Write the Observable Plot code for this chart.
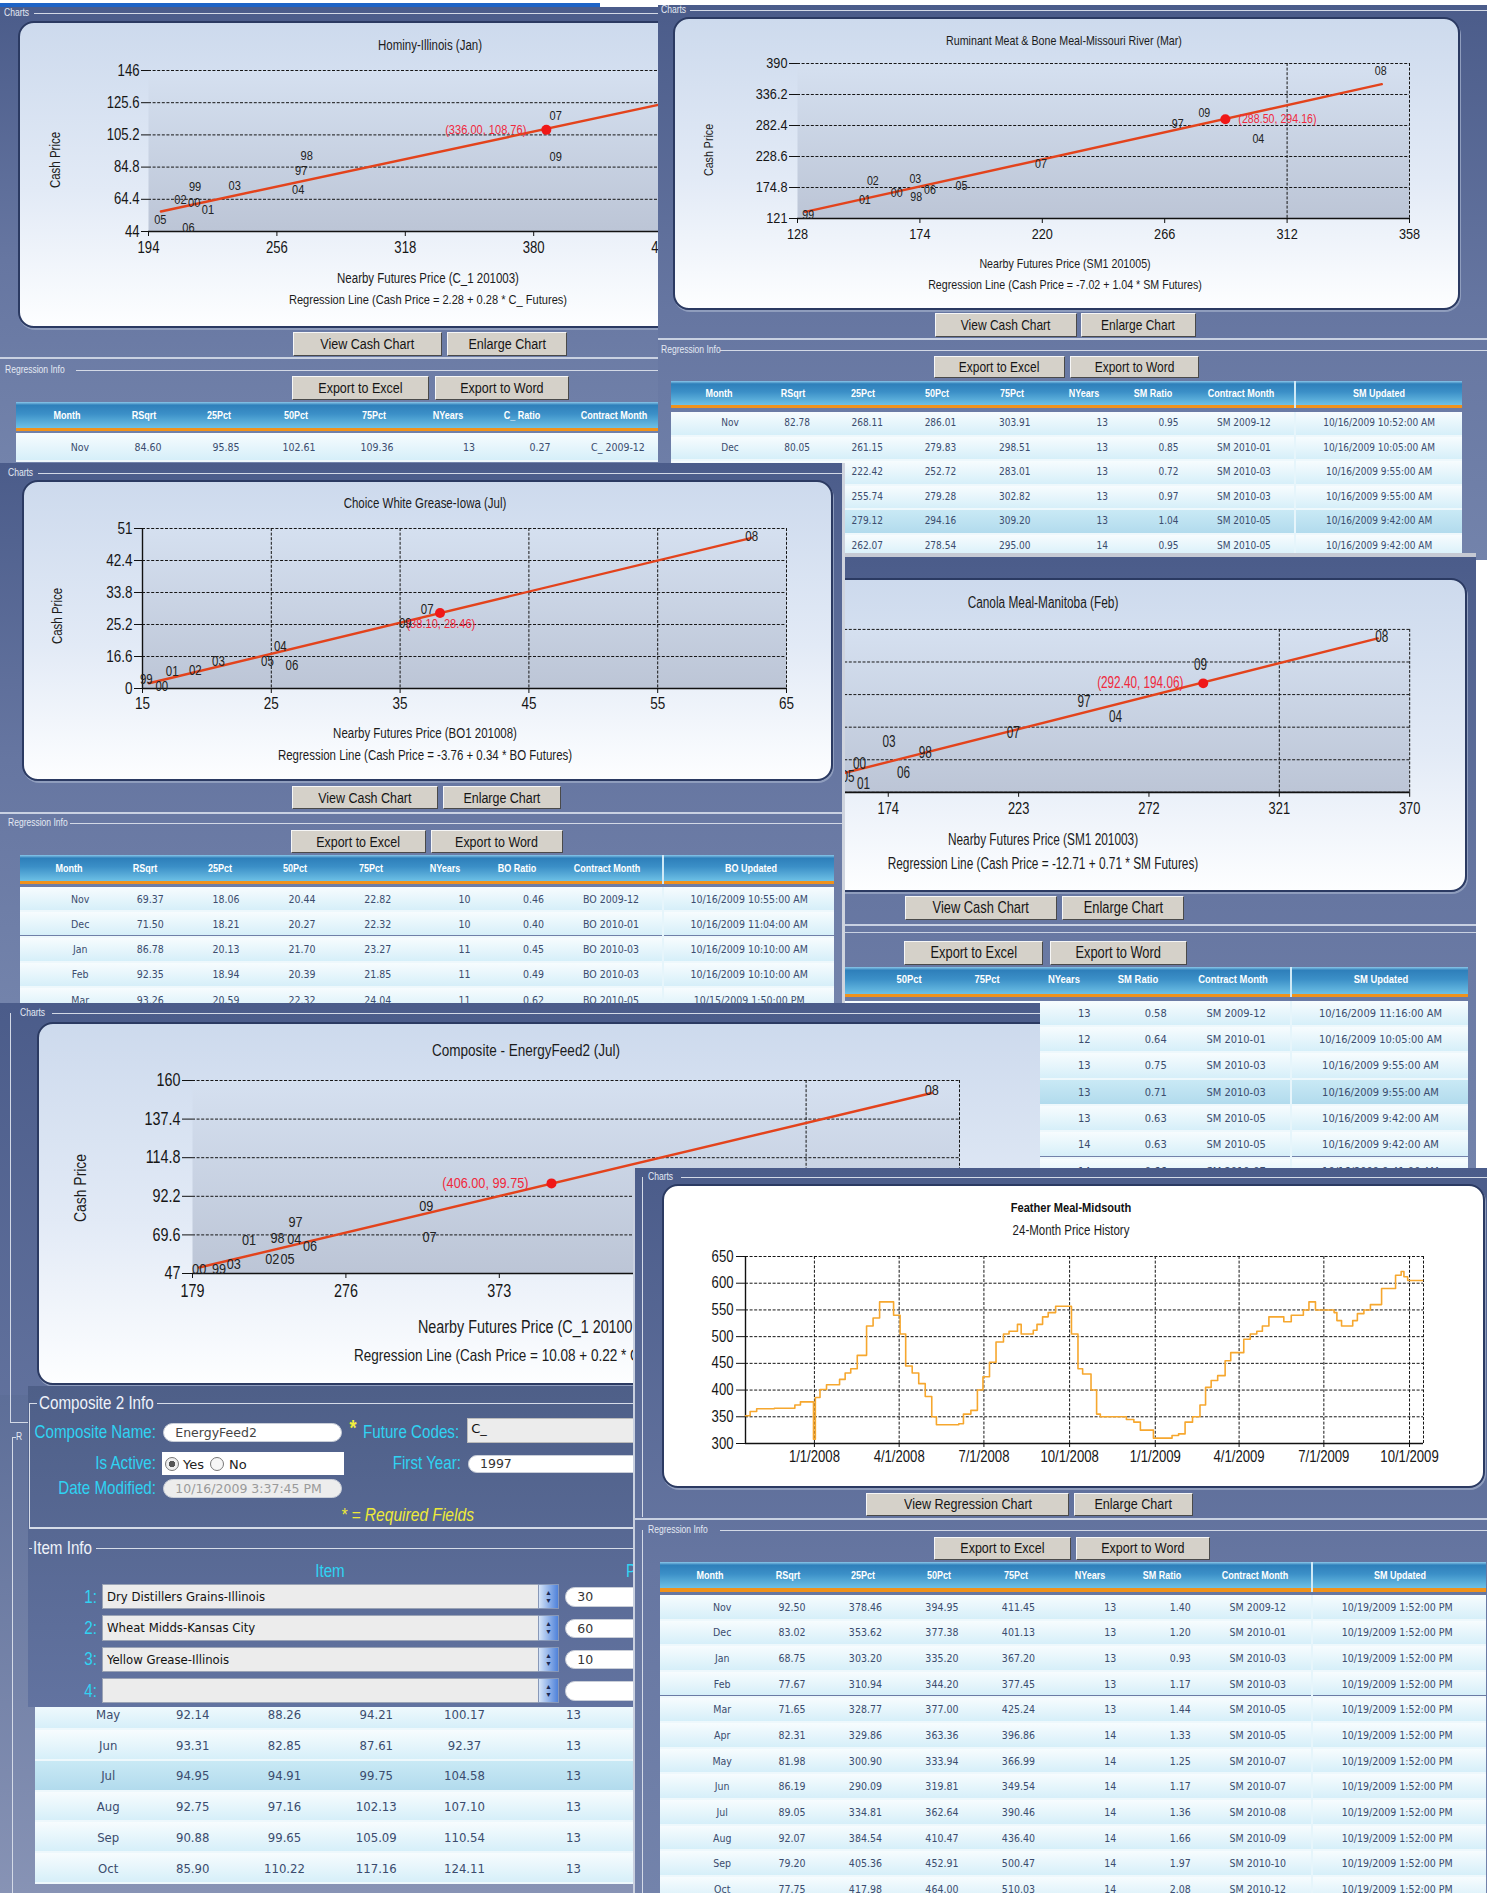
<!DOCTYPE html>
<html><head><meta charset="utf-8">
<script src="https://cdn.jsdelivr.net/npm/d3@7"></script>
<script src="https://cdn.jsdelivr.net/npm/@observablehq/plot@0.6"></script>
<style>
html,body{margin:0;padding:0;background:#fff;}
#page{position:relative;width:1487px;height:1893px;overflow:hidden;background:#fff;}
.pn{position:absolute;overflow:hidden;background:linear-gradient(180deg,#4b5c8a 0%,#6676a1 55%,#7383ab 100%);}
.a{position:absolute;box-sizing:border-box;}
.t{position:absolute;white-space:nowrap;line-height:1;}
.box{position:absolute;box-sizing:border-box;border:2px solid #2b3a62;border-radius:16px;background:linear-gradient(180deg,#cddaed 0%,#e2eaf6 55%,#fdfeff 100%);box-shadow:1px 2px 0 #8f9dbd;}
.btn{position:absolute;box-sizing:border-box;background:#d5d1c9;border:1px solid;border-color:#f6f6f6 #4a4a4a #4a4a4a #f6f6f6;display:flex;align-items:center;justify-content:center;color:#151515;white-space:nowrap;}
.btn span{display:inline-block;transform:scaleX(0.82);}
</style></head><body><div id="page"></div>
<script>
// ---------------- DATA ----------------
// Hominy-Illinois (Jan)
const hominyYears   = ["07","09","98","97","04","03","99","02","00","01","05","06"];
const hominyFutures = [390.6,390.6,270.4,267.7,266.3,235.6,216.5,209.4,216.1,222.7,199.7,213.3];
const hominyCash    = [117.5,91.5,92.2,82.5,70.6,73.1,72.5,64.1,62.2,57.9,51.4,46.3];
const hominyFitX = [200,470];
const hominyFitY = [56.7,132.6];
const hominyMark = [386.1,108.4];
const hominyMarkLabel = "(336.00, 108.76)";
const hominyXTicks = [194,256,318,380,442,504];
const hominyYTicks = [44,64.4,84.8,105.2,125.6,146];

// Ruminant Meat & Bone Meal-Missouri River (Mar)
const rumYears   = ["08","09","97","04","07","02","03","05","00","98","06","01","99"];
const rumFutures = [347.2,280.9,270.9,301.2,219.5,156.3,172.3,189.6,165.3,172.6,177.8,153.3,132];
const rumCash    = [376.6,304.3,285.9,259.8,216.5,185.7,190.4,178.3,165.4,158.5,171.3,154,126.7];
const rumFitX = [130.9,347.6];
const rumFitY = [132.5,354.1];
const rumMark = [288.8,293.3];
const rumMarkLabel = "(288.50, 294.16)";
const rumXTicks = [128,174,220,266,312,358];
const rumYTicks = [121,174.8,228.6,282.4,336.2,390];

// Choice White Grease-Iowa (Jul)
const cwgYears   = ["08","07","09","04","05","06","03","02","01","99","00"];
const cwgFutures = [62.3,37.1,35.4,25.7,24.7,26.6,20.9,19.1,17.3,15.3,16.5];
const cwgCash    = [48.8,29.2,25.6,19.4,15.3,14.1,15.3,12.9,12.7,10.5,8.5];
const cwgFitX = [15.5,62.3];
const cwgFitY = [9.4,48.5];
const cwgMark = [38.1,28.3];
const cwgMarkLabel = "(38.10, 28.46)";
const cwgXTicks = [15,25,35,45,55,65];
const cwgYTicks = [8,16.6,25.2,33.8,42.4,51];
const cwgYTickLabels = ["0","16.6","25.2","33.8","42.4","51"];

// Canola Meal-Manitoba (Feb)
const canYears   = ["08","09","97","04","07","03","98","06","00","01","05"];
const canFutures = [359.5,291.4,247.6,259.4,221,174.3,187.9,179.7,163.2,164.7,158.9];
const canCash    = [243.2,213.2,175,159,141.5,131.9,120.9,99.2,108.6,88.1,95];
const canFitX = [140,358];
const canFitY = [87,241.5];
const canMark = [292.4,194.06];
const canMarkLabel = "(292.40, 194.06)";
const canXTicks = [125,174,223,272,321,370];
const canYTicks = [79,113.4,147.8,182.2,216.6,251];

// Composite - EnergyFeed2 (Jul)
const compYears   = ["08","09","07","97","98","04","06","01","02","05","03","99","00"];
const compFutures = [646.5,326.8,328.9,244.1,232.8,243.3,253.3,214.7,229.4,239.1,205.1,195.8,183.2];
const compCash    = [154.7,86.7,68.5,77.3,67.8,67.2,63.3,66.6,55.4,55.4,52.5,49.6,49.6];
const compFitX = [183.2,646.5];
const compFitY = [50.5,152.7];
const compMark = [406,99.75];
const compMarkLabel = "(406.00, 99.75)";
const compXTicks = [179,276,373,470,567,664];
const compYTicks = [47,69.6,92.2,114.8,137.4,160];
const compItems = ["Dry Distillers Grains-Illinois","Wheat Midds-Kansas City","Yellow Grease-Illinois",""];
const compWeights = ["30","60","10",""];

// Feather Meal-Midsouth 24-Month Price History
const featherDates = ["2007-10-19","2007-10-24","2007-10-31","2007-11-19","2007-12-11","2007-12-17","2007-12-31","2008-01-02","2008-01-07","2008-01-14",
 "2008-01-28","2008-02-03","2008-02-09","2008-02-16","2008-02-26","2008-03-04","2008-03-11","2008-03-26","2008-04-02","2008-04-08",
 "2008-04-15","2008-04-22","2008-04-29","2008-05-06","2008-05-11","2008-06-04","2008-06-09","2008-06-17","2008-06-24","2008-06-30",
 "2008-07-07","2008-07-14","2008-07-22","2008-07-28","2008-08-06","2008-08-10","2008-08-23","2008-08-27","2008-09-02","2008-09-08",
 "2008-09-16","2008-10-03","2008-10-10","2008-10-15","2008-10-24","2008-10-30","2008-11-03","2008-12-01","2008-12-09","2008-12-16",
 "2008-12-30","2009-01-19","2009-01-26","2009-02-02","2009-02-10","2009-02-18","2009-02-24","2009-03-02","2009-03-09","2009-03-17",
 "2009-03-23","2009-04-06","2009-04-13","2009-04-20","2009-04-26","2009-05-03","2009-05-19","2009-05-27","2009-06-09","2009-06-15",
 "2009-06-22","2009-07-12","2009-07-15","2009-07-20","2009-08-01","2009-08-06","2009-08-13","2009-08-20","2009-09-01","2009-09-16",
 "2009-09-22","2009-09-25","2009-09-29","2009-10-15"];
const featherPrices = [352,360,365,366,372,378,308,386,401,410,
 420,432,440,465,520,535,565,540,505,445,
 432,412,388,350,335,337,355,362,400,425,
 452,490,505,510,523,505,512,523,537,545,
 557,505,440,430,400,355,350,345,340,325,
 310,315,318,340,350,372,405,418,427,455,
 470,495,505,510,520,537,528,540,550,565,
 550,545,530,520,530,543,550,560,590,615,
 622,612,605,605];
const featherXTicks = ["2008-01-01","2008-04-01","2008-07-01","2008-10-01","2009-01-01","2009-04-01","2009-07-01","2009-10-01"];
const featherYTicks = [300,350,400,450,500,550,600,650];
const featherDomain = ["2007-10-19","2009-10-16"];

// Regression tables
const headC  = ["Month","RSqrt","25Pct","50Pct","75Pct","NYears","C_ Ratio","Contract Month","C_ Updated"];
const headSM = ["Month","RSqrt","25Pct","50Pct","75Pct","NYears","SM Ratio","Contract Month","SM Updated"];
const headBO = ["Month","RSqrt","25Pct","50Pct","75Pct","NYears","BO Ratio","Contract Month","BO Updated"];
const hominyRows = [["Nov","84.60","95.85","102.61","109.36","13","0.27","C_ 2009-12",""]];
const rumRows = [
 ["Nov","82.78","268.11","286.01","303.91","13","0.95","SM 2009-12","10/16/2009 10:52:00 AM"],
 ["Dec","80.05","261.15","279.83","298.51","13","0.85","SM 2010-01","10/16/2009 10:05:00 AM"],
 ["","","222.42","252.72","283.01","13","0.72","SM 2010-03","10/16/2009 9:55:00 AM"],
 ["","","255.74","279.28","302.82","13","0.97","SM 2010-03","10/16/2009 9:55:00 AM"],
 ["","","279.12","294.16","309.20","13","1.04","SM 2010-05","10/16/2009 9:42:00 AM"],
 ["","","262.07","278.54","295.00","14","0.95","SM 2010-05","10/16/2009 9:42:00 AM"]];
const cwgRows = [
 ["Nov","69.37","18.06","20.44","22.82","10","0.46","BO 2009-12","10/16/2009 10:55:00 AM"],
 ["Dec","71.50","18.21","20.27","22.32","10","0.40","BO 2010-01","10/16/2009 11:04:00 AM"],
 ["Jan","86.78","20.13","21.70","23.27","11","0.45","BO 2010-03","10/16/2009 10:10:00 AM"],
 ["Feb","92.35","18.94","20.39","21.85","11","0.49","BO 2010-03","10/16/2009 10:10:00 AM"],
 ["Mar","93.26","20.59","22.32","24.04","11","0.62","BO 2010-05","10/15/2009 1:50:00 PM"]];
const canRows = [
 ["","","","","","13","0.58","SM 2009-12","10/16/2009 11:16:00 AM"],
 ["","","","","","12","0.64","SM 2010-01","10/16/2009 10:05:00 AM"],
 ["","","","","","13","0.75","SM 2010-03","10/16/2009 9:55:00 AM"],
 ["","","","","","13","0.71","SM 2010-03","10/16/2009 9:55:00 AM"],
 ["","","","","","13","0.63","SM 2010-05","10/16/2009 9:42:00 AM"],
 ["","","","","","14","0.63","SM 2010-05","10/16/2009 9:42:00 AM"],
 ["","","","","","14","0.66","SM 2010-07","10/16/2009 9:41:00 AM"]];
const compRows = [
 ["May","92.14","88.26","94.21","100.17","13"],
 ["Jun","93.31","82.85","87.61","92.37","13"],
 ["Jul","94.95","94.91","99.75","104.58","13"],
 ["Aug","92.75","97.16","102.13","107.10","13"],
 ["Sep","90.88","99.65","105.09","110.54","13"],
 ["Oct","85.90","110.22","117.16","124.11","13"]];
const featherRows = [
 ["Nov","92.50","378.46","394.95","411.45","13","1.40","SM 2009-12","10/19/2009 1:52:00 PM"],
 ["Dec","83.02","353.62","377.38","401.13","13","1.20","SM 2010-01","10/19/2009 1:52:00 PM"],
 ["Jan","68.75","303.20","335.20","367.20","13","0.93","SM 2010-03","10/19/2009 1:52:00 PM"],
 ["Feb","77.67","310.94","344.20","377.45","13","1.17","SM 2010-03","10/19/2009 1:52:00 PM"],
 ["Mar","71.65","328.77","377.00","425.24","13","1.44","SM 2010-05","10/19/2009 1:52:00 PM"],
 ["Apr","82.31","329.86","363.36","396.86","14","1.33","SM 2010-05","10/19/2009 1:52:00 PM"],
 ["May","81.98","300.90","333.94","366.99","14","1.25","SM 2010-07","10/19/2009 1:52:00 PM"],
 ["Jun","86.19","290.09","319.81","349.54","14","1.17","SM 2010-07","10/19/2009 1:52:00 PM"],
 ["Jul","89.05","334.81","362.64","390.46","14","1.36","SM 2010-08","10/19/2009 1:52:00 PM"],
 ["Aug","92.07","384.54","410.47","436.40","14","1.66","SM 2010-09","10/19/2009 1:52:00 PM"],
 ["Sep","79.20","405.36","452.91","500.47","14","1.97","SM 2010-10","10/19/2009 1:52:00 PM"],
 ["Oct","77.75","417.98","464.00","510.03","14","2.08","SM 2010-12","10/19/2009 1:52:00 PM"]];

// ---------------- HELPERS ----------------
const NARROW = '"Liberation Sans",Arial,sans-serif';
const COND = '"DejaVu Sans Condensed","DejaVu Sans",sans-serif';
const SANS = '"DejaVu Sans",Verdana,sans-serif';
const SX = 0.82;
const CYAN = "#2fd3f3";
const page = document.getElementById("page");
page._x = 0; page._y = 0;

function mk(parent, cls, x, y, w, h, css) {
  const d = document.createElement("div");
  d.className = cls;
  d.style.left = (x - parent._x) + "px";
  d.style.top = (y - parent._y) + "px";
  if (w != null) d.style.width = w + "px";
  if (h != null) d.style.height = h + "px";
  if (css) Object.assign(d.style, css);
  parent.appendChild(d);
  d._x = x; d._y = y;
  return d;
}
function tx(parent, s, x, y, o = {}) {
  const ff = o.ff || NARROW;
  const d = mk(parent, "t", x, y, null, null, {
    fontSize: (o.fs || 13) + "px", color: o.c || "#1b1b1b", fontFamily: ff,
    fontWeight: o.b ? "bold" : "normal", fontStyle: o.i ? "italic" : "normal"});
  const ax = o.a === "start" ? "0" : o.a === "end" ? "-100%" : "-50%";
  const sx = o.sx != null ? o.sx : (ff === NARROW ? SX : 1);
  d.style.transformOrigin = o.rot ? "50% 50%" : (o.a === "start" ? "0% 50%" : o.a === "end" ? "100% 50%" : "50% 50%");
  d.style.transform = `translate(${ax},-50%)` + (o.rot ? ` rotate(${o.rot}deg)` : "") + ` scaleX(${sx})`;
  d.textContent = s;
  return d;
}
function hl(p, x, y, w, c, th) { return mk(p, "a", x, y, w, th || 1, {background: c || "#c9d1e2"}); }
function vl(p, x, y, h, c, th) { return mk(p, "a", x, y, th || 1, h, {background: c || "#c9d1e2"}); }
function btn(p, label, x, y, w, h, fs) {
  const b = mk(p, "btn", x, y, w, h, {fontSize: (fs || 15) + "px", fontFamily: NARROW});
  const s = document.createElement("span"); s.textContent = label; b.appendChild(s);
  return b;
}
function panel(x, y, w, h, z, css) {
  return mk(page, "pn", x, y, w, h, Object.assign({zIndex: z}, css || {}));
}
function legend(p, label, x, y, lineStart, lineEnd) {
  tx(p, label, x, y, {a: "start", fs: 10.4, c: "#e4e9f3"});
  hl(p, lineStart, y, lineEnd - lineStart, "#d3d9e6");
}
function narrowSvg(svg, s) {
  svg.querySelectorAll("text").forEach(t => {
    const x = +t.getAttribute("x") || 0, y = +t.getAttribute("y") || 0;
    const tr = t.getAttribute("transform") || "";
    t.setAttribute("transform", `${tr} translate(${x},${y}) scale(${s},1) translate(${-x},${-y})`);
  });
}
function place(p, svg, x, y) {
  svg.style.position = "absolute";
  svg.style.left = (x - p._x) + "px";
  svg.style.top = (y - p._y) + "px";
  p.appendChild(svg);
}
function table(p, o) {
  if (o.head) {
    mk(p, "a", o.x, o.y, o.w, o.headH, {background: "linear-gradient(180deg,#8cc8ea 0%,#2e7fba 12%,#3b8fc7 45%,#6dc0e5 100%)"});
    o.head.forEach((h, i) => tx(p, h, o.hc[i], o.y + o.headH / 2, {fs: o.hfs || 11, c: "#ffffff", b: true}));
    mk(p, "a", o.x, o.y + o.headH, o.w, o.orangeH, {background: "#f0921c"});
    if (o.sep) vl(p, o.sep, o.y, o.headH + o.orangeH, "#cfe9f6", 2);
  }
  o.rows.forEach((r, k) => {
    const top = o.rowTop + k * o.rowH;
    const bg = k === o.hi ? "linear-gradient(180deg,#c9e9f5,#b2dbed)" : "linear-gradient(180deg,#f7fcfe,#d6eff9)";
    mk(p, "a", o.x, top, o.w, o.rowH - 2, {background: bg});
    hl(p, o.x, top + o.rowH - 2, o.w, "#eef8fc", 2);
    if (o.sep) vl(p, o.sep, top, o.rowH, "#e6f5fb", 2);
    r.forEach((v, i) => { if (v !== "") tx(p, v, o.vc[i], top + o.rowH / 2 - 1, {fs: o.vfs || 10, c: "#3b4c6e", ff: COND}); });
  });
}
function gradDefs(id, c1, c2) {
  return () => {
    const g = d3.create("svg:g");
    const lg = g.append("defs").append("linearGradient").attr("id", id)
      .attr("x1", "0").attr("y1", "0").attr("x2", "0").attr("y2", "1");
    lg.append("stop").attr("offset", "0").attr("stop-color", c1);
    lg.append("stop").attr("offset", "1").attr("stop-color", c2);
    return g.node();
  };
}
function regChart(p, o) {
  const [L, T, R, B] = o.rect;
  const padL = 95, padR = 30, padT = 14, padB = 36;
  const W = Math.round(R - L + padL + padR), H = Math.round(B - T + padT + padB);
  const labels = o.years.map((t, i) => ({t, x: o.fut[i], y: o.cash[i]}));
  const fit = o.fitX.map((x, i) => ({x, y: o.fitY[i]}));
  const ylab = new Map(o.yTicks.map((v, i) => [v, o.yLabels ? o.yLabels[i] : String(v)]));
  const dash = {stroke: "#161616", strokeWidth: 1, strokeDasharray: "3,1.6"};
  const marks = [
    gradDefs(o.id, "#d5e0f0", "#bcc5d6"),
    Plot.frame({fill: `url(#${o.id})`, stroke: "none"}),
    Plot.ruleY(o.yTicks, dash),
    Plot.ruleX(o.vLines, dash),
    Plot.ruleY([o.yDomain[0]], {stroke: "#111", strokeWidth: 1.6})
  ];
  if (o.leftLine) marks.push(Plot.ruleX([o.xDomain[0]], {stroke: "#111", strokeWidth: 1.4}));
  marks.push(
    Plot.axisY({ticks: o.yTicks, tickFormat: d => ylab.get(d), tickSize: o.ySize || 8, tickPadding: 2, fontSize: o.tickFs, label: null, stroke: "#111"}),
    Plot.axisX({ticks: o.xTicks, tickFormat: d => String(d), tickSize: 5, tickPadding: o.xPad || 4, fontSize: o.tickFs, label: null, stroke: "#111"}),
    Plot.line(fit, {x: "x", y: "y", stroke: "#e3431c", strokeWidth: 2.4}),
    Plot.text(labels, {x: "x", y: "y", text: "t", fontSize: o.lblFs, fill: "#222"}),
    Plot.dot([o.mark], {x: d => d[0], y: d => d[1], r: 5, fill: "#f01818", stroke: "none"}),
    Plot.text([o.mark], {x: d => d[0], y: d => d[1], text: () => o.markLabel, textAnchor: o.mlAnchor,
      dx: o.mlDx, dy: o.mlDy || 0, fill: "#f0283c", fontSize: o.mlFs || o.lblFs})
  );
  const svg = Plot.plot({
    width: W, height: H, marginLeft: padL, marginRight: padR, marginTop: padT, marginBottom: padB,
    x: {domain: o.xDomain}, y: {domain: o.yDomain},
    style: {background: "transparent", fontFamily: NARROW, color: "#161616", overflow: "visible"},
    marks
  });
  narrowSvg(svg, o.sx || SX);
  place(p, svg, L - padL, T - padT);
}

// ---------------- PAGE ----------------
mk(page, "a", 0, 3, 600, 4, {background: "#1d63c6"});

// ===== A: Hominy =====
const pA = panel(0, 7, 800, 459, 1);
legend(pA, "Charts", 4, 13, 34, 800);
mk(pA, "box", 18, 21, 840, 307);
tx(pA, "Hominy-Illinois (Jan)", 430, 45, {fs: 14});
regChart(pA, {id: "gA", rect: [148.4, 70, 790, 231], xDomain: [194, 504], yDomain: [44, 146],
  xTicks: hominyXTicks, yTicks: hominyYTicks, vLines: [], years: hominyYears, fut: hominyFutures, cash: hominyCash,
  fitX: hominyFitX, fitY: hominyFitY, mark: hominyMark, markLabel: hominyMarkLabel, mlAnchor: "end", mlDx: -20,
  tickFs: 16, lblFs: 13.5, xPad: 5, ySize: 7});
tx(pA, "Cash Price", 55, 160, {fs: 14, rot: -90});
tx(pA, "Nearby Futures Price (C_1 201003)", 428, 278, {fs: 14});
tx(pA, "Regression Line (Cash Price = 2.28 + 0.28 * C_ Futures)", 428, 300, {fs: 13.5});
btn(pA, "View Cash Chart", 293, 332, 149, 24, 15.3);
btn(pA, "Enlarge Chart", 447, 332, 120, 24, 15.3);
hl(pA, 0, 357, 800, "#c9d1e2", 2);
legend(pA, "Regression Info", 5, 370, 76, 800);
btn(pA, "Export to Excel", 292, 376, 137, 24, 15.3);
btn(pA, "Export to Word", 435, 376, 134, 24, 15.3);
table(pA, {x: 16, y: 402, w: 720, headH: 26, orangeH: 3, rowTop: 433, rowH: 29, head: headC,
  hc: [66.6, 144, 219, 296, 374, 448, 522, 614, 710], vc: [80, 148, 226, 299, 377, 469, 540, 618, 710],
  rows: hominyRows, hi: -1, sep: 665, vfs: 10.5});

// ===== B: Ruminant =====
const pB = panel(658, 5, 829, 555, 2);
legend(pB, "Charts", 661, 10, 690, 1487);
mk(pB, "box", 672.5, 16.7, 787.5, 293.3);
tx(pB, "Ruminant Meat & Bone Meal-Missouri River (Mar)", 1063.5, 40, {fs: 13});
regChart(pB, {id: "gB", rect: [797.2, 63.3, 1409.4, 218.3], xDomain: [128, 358], yDomain: [121, 390],
  xTicks: rumXTicks, yTicks: rumYTicks, vLines: [312, 358], years: rumYears, fut: rumFutures, cash: rumCash,
  fitX: rumFitX, fitY: rumFitY, mark: rumMark, markLabel: rumMarkLabel, mlAnchor: "start", mlDx: 13,
  tickFs: 15.5, lblFs: 13, xPad: 4, ySize: 8});
tx(pB, "Cash Price", 708, 150, {fs: 13, rot: -90});
tx(pB, "Nearby Futures Price (SM1 201005)", 1064.5, 262.7, {fs: 13});
tx(pB, "Regression Line (Cash Price = -7.02 + 1.04 * SM Futures)", 1065, 284, {fs: 13});
btn(pB, "View Cash Chart", 935, 313, 142, 24, 14.6);
btn(pB, "Enlarge Chart", 1081, 313, 115, 24, 14.6);
hl(pB, 658, 338, 829, "#c9d1e2", 2);
legend(pB, "Regression Info", 661, 350, 720, 1487);
btn(pB, "Export to Excel", 933.5, 356, 131.5, 22, 14.6);
btn(pB, "Export to Word", 1070, 356, 129, 22, 14.6);
table(pB, {x: 671, y: 380.7, w: 791.4, headH: 24.3, orangeH: 3, rowTop: 412.2, rowH: 24.5, head: headSM,
  hc: [718.7, 793, 863, 937.2, 1011.5, 1083.6, 1152.6, 1241.2, 1379], vc: [730, 797.2, 867.2, 940.4, 1014.7, 1102.2, 1168.5, 1243.9, 1379.1],
  rows: rumRows, hi: 4, sep: 1294});

// ===== C: Canola =====
const pC = panel(700, 553, 776, 615, 3, {borderTop: "4px solid #c6cad4", boxSizing: "border-box"});
mk(pC, "box", 712, 574.4, 755.2, 313.8);
tx(pC, "Canola Meal-Manitoba (Feb)", 1043, 598.7, {fs: 16, sx: 0.74});
regChart(pC, {id: "gC", rect: [757.5, 624.6, 1413.5, 789], xDomain: [125, 370], yDomain: [79, 251],
  xTicks: canXTicks, yTicks: canYTicks, vLines: [321, 370], years: canYears, fut: canFutures, cash: canCash,
  fitX: canFitX, fitY: canFitY, mark: canMark, markLabel: canMarkLabel, mlAnchor: "end", mlDx: -20,
  tickFs: 17.5, lblFs: 16, xPad: 4, ySize: 8, sx: 0.74});
tx(pC, "Nearby Futures Price (SM1 201003)", 1043.4, 836.4, {fs: 16, sx: 0.74});
tx(pC, "Regression Line (Cash Price = -12.71 + 0.71 * SM Futures)", 1043.4, 859.6, {fs: 16, sx: 0.74});
btn(pC, "View Cash Chart", 905.2, 892, 151.4, 23.6, 15.7);
btn(pC, "Enlarge Chart", 1061.6, 892, 122.9, 23.6, 15.7);
hl(pC, 700, 919.6, 776, "#c9d1e2", 2);
hl(pC, 700, 928, 776, "#c9d1e2", 1);
btn(pC, "Export to Excel", 904, 937.2, 139.4, 23.6, 15.7);
btn(pC, "Export to Word", 1049.6, 937.2, 137, 23.6, 15.7);
table(pC, {x: 700, y: 962.7, w: 768, headH: 27.5, orangeH: 3, rowTop: 996.7, rowH: 26.3, head: headSM,
  hc: [735, 780, 824, 908.9, 987.3, 1063.6, 1137.9, 1232.8, 1381], vc: [735, 780, 824, 910, 988, 1084.3, 1155.7, 1236.1, 1380.5],
  rows: canRows, hi: 3, sep: 1289.8, hfs: 11.5, vfs: 11});

// ===== D: Choice White Grease =====
const pD = panel(0, 463, 845, 540, 4, {borderRight: "3px solid #cfd4de", boxSizing: "border-box"});
legend(pD, "Charts", 8, 472.9, 38, 843);
mk(pD, "box", 21.7, 480.2, 811.5, 301.3);
tx(pD, "Choice White Grease-Iowa (Jul)", 424.5, 503.4, {fs: 14});
regChart(pD, {id: "gD", rect: [142, 527.8, 785.5, 687.7], xDomain: [15, 65], yDomain: [8, 51],
  xTicks: cwgXTicks, yTicks: cwgYTicks, yLabels: cwgYTickLabels, vLines: [25, 35, 45, 55, 65], leftLine: true,
  years: cwgYears, fut: cwgFutures, cash: cwgCash, fitX: cwgFitX, fitY: cwgFitY, mark: cwgMark, markLabel: cwgMarkLabel,
  mlAnchor: "start", mlDx: -33.6, mlDy: 10.5, mlFs: 13.5, tickFs: 16.5, lblFs: 14, xPad: 4, ySize: 8});
tx(pD, "Cash Price", 57, 616.4, {fs: 14, rot: -90});
tx(pD, "Nearby Futures Price (BO1 201008)", 424.5, 732.9, {fs: 14});
tx(pD, "Regression Line (Cash Price = -3.76 + 0.34 * BO Futures)", 424.5, 754.8, {fs: 14});
btn(pD, "View Cash Chart", 291.6, 786, 146.4, 23.3, 15.2);
btn(pD, "Enlarge Chart", 443, 786, 118, 23.3, 15.2);
hl(pD, 0, 811.7, 845, "#c9d1e2", 2);
legend(pD, "Regression Info", 8, 823.2, 70, 843);
btn(pD, "Export to Excel", 291, 829.5, 134.5, 23.3, 15.2);
btn(pD, "Export to Word", 431, 829.5, 131.7, 23.3, 15.2);
table(pD, {x: 20, y: 854.5, w: 813.7, headH: 26.1, orangeH: 3.7, rowTop: 887.1, rowH: 25.2, head: headBO,
  hc: [68.8, 145.3, 219.5, 295, 371.3, 444.5, 516.6, 607.1, 750.8], vc: [80.2, 150.2, 226, 302, 377.8, 464.6, 533.4, 611, 749.2],
  rows: cwgRows, hi: -1, sep: 662.4, vfs: 10.5});

// ===== E: Composite =====
const pE = panel(0, 1003, 1040, 890, 5);
mk(pE, "a", 0, 1395, 1040, 498, {background: "linear-gradient(180deg,#5d6e98,#8793b5)"});
legend(pE, "Charts", 20, 1012.7, 52, 1040);
vl(pE, 10, 1012.7, 409, "#d3d9e6");
hl(pE, 10, 1421.7, 18, "#d3d9e6");
mk(pE, "box", 36.5, 1021.7, 1020, 363.3);
tx(pE, "Composite - EnergyFeed2 (Jul)", 526, 1050, {fs: 16.5});
regChart(pE, {id: "gE", rect: [192.3, 1080, 959.7, 1272.7], xDomain: [179, 664], yDomain: [47, 160],
  xTicks: compXTicks, yTicks: compYTicks, vLines: [567, 664], years: compYears, fut: compFutures, cash: compCash,
  fitX: compFitX, fitY: compFitY, mark: compMark, markLabel: compMarkLabel, mlAnchor: "end", mlDx: -23,
  tickFs: 17.5, lblFs: 15.5, xPad: 6, ySize: 10});
tx(pE, "Cash Price", 79.6, 1188.3, {fs: 17, rot: -90});
tx(pE, "Nearby Futures Price (C_1 201009)", 417.9, 1328.3, {fs: 17.5, a: "start"});
tx(pE, "Regression Line (Cash Price = 10.08 + 0.22 * C_ Futures)", 353.5, 1355, {fs: 16.5, a: "start"});
tx(pE, "R", 16, 1436.7, {fs: 10.4, c: "#e4e9f3", a: "start"});
vl(pE, 12, 1436.7, 460, "#d3d9e6");
hl(pE, 12, 1436.7, 4, "#d3d9e6");
table(pE, {x: 34.7, y: 0, w: 700, rowTop: 1699.65, rowH: 30.7, head: null,
  vc: [108.2, 192.7, 284.5, 376.3, 464.5, 573.5], rows: compRows, hi: 2, vfs: 13});
// Composite 2 Info form
const fm = mk(pE, "a", 28, 1386, 620, 321, {background: "linear-gradient(180deg,#4e5f88,#6273a0)"});
const LN = "#d6dce8";
hl(fm, 28.6, 1403, 8, LN); tx(fm, "Composite 2 Info", 38.8, 1403, {a: "start", fs: 18.5, c: "#eef2fa"}); hl(fm, 157, 1403, 500, LN);
vl(fm, 28.6, 1403, 124, LN); hl(fm, 28.6, 1527, 620, LN, 2);
function pill(p, x, y, w, h, s, c, bg) {
  const d = mk(p, "a", x, y, w, h, {background: bg || "#fff", borderRadius: (h / 2) + "px", border: "1px solid #c9ced8",
    overflow: "hidden", fontFamily: SANS, fontSize: "12.5px", color: c || "#444", lineHeight: (h - 2) + "px", paddingLeft: "11px", whiteSpace: "nowrap"});
  d.textContent = s; return d;
}
tx(fm, "Composite Name:", 156.3, 1432.3, {a: "end", fs: 18.5, c: CYAN});
pill(fm, 163.3, 1422.7, 178.7, 19.6, "EnergyFeed2", "#444");
tx(fm, "*", 353, 1428, {fs: 22, c: "#f3ef3c", b: true});
tx(fm, "Future Codes:", 363.3, 1432.3, {a: "start", fs: 18.5, c: CYAN});
const fc = mk(fm, "a", 467.3, 1418.3, 200, 25, {background: "#ececec", border: "1px solid #bbb", fontFamily: SANS, fontSize: "13px", color: "#111", lineHeight: "20px", paddingLeft: "3px"});
fc.textContent = "C_";
tx(fm, "Is Active:", 156.3, 1463.3, {a: "end", fs: 18.5, c: CYAN});
mk(fm, "a", 161.6, 1452.3, 182.4, 22.7, {background: "#fff"});
mk(fm, "a", 164.5, 1456.5, 14, 14, {borderRadius: "50%", border: "1px solid #777", background: "radial-gradient(circle,#555 0 3px,#eee 3.5px)"});
tx(fm, "Yes", 183, 1463.5, {a: "start", fs: 13, ff: SANS, c: "#222"});
mk(fm, "a", 210, 1456.5, 14, 14, {borderRadius: "50%", border: "1px solid #777", background: "#f6f6f6"});
tx(fm, "No", 229, 1463.5, {a: "start", fs: 13, ff: SANS, c: "#222"});
tx(fm, "First Year:", 461, 1463.3, {a: "end", fs: 18.5, c: CYAN});
pill(fm, 468, 1455, 200, 17.7, "1997", "#333");
tx(fm, "Date Modified:", 156.3, 1488.3, {a: "end", fs: 18.5, c: CYAN});
pill(fm, 163.3, 1479.3, 178.7, 19, "10/16/2009 3:37:45 PM", "#9a9a9a", "#ededed");
tx(fm, "* = Required Fields", 340.8, 1514, {a: "start", fs: 19, c: "#eeea38", i: true});
hl(fm, 28.6, 1547.7, 3, LN); tx(fm, "Item Info", 32.7, 1547.7, {a: "start", fs: 18.5, c: "#eef2fa"}); hl(fm, 96, 1547.7, 560, LN);
tx(fm, "Item", 329.8, 1570.7, {fs: 18.5, c: CYAN});
tx(fm, "Percent", 626, 1570.7, {fs: 18.5, c: CYAN, a: "start"});
compItems.forEach((it, i) => {
  const yc = 1596.7 + 31.3 * i;
  tx(fm, (i + 1) + ":", 97, yc, {a: "end", fs: 18.5, c: CYAN});
  const s = mk(fm, "a", 102, yc - 12.7, 457.2, 25.3, {background: "#ececec", border: "1px solid #9aa3b5", fontFamily: COND,
    fontSize: "13px", color: "#111", lineHeight: "23px", paddingLeft: "4px", whiteSpace: "nowrap"});
  s.textContent = it;
  const sp = mk(fm, "a", 538, yc - 12.7, 21, 25.3, {background: "linear-gradient(90deg,#d5e4f8,#4f82da)", border: "1px solid #8898b8",
    color: "#1a2a55", fontSize: "7px", lineHeight: "8px", textAlign: "center", paddingTop: "4px"});
  sp.innerHTML = "▲<br>▼";
  pill(fm, 565.3, yc - 9.4, 120, 19.4, compWeights[i], "#333");
});

// ===== F: Feather Meal =====
const pF = panel(633, 1168, 854, 725, 6, {borderLeft: "2px solid #c9d0df", boxSizing: "border-box"});
legend(pF, "Charts", 646.4, 1176.7, 679, 1487);
vl(pF, 639.5, 1176.7, 340, "#d3d9e6");
mk(pF, "box", 660, 1184.3, 822.6, 304, {background: "#ffffff"});
tx(pF, "Feather Meal-Midsouth", 1068.9, 1208.3, {fs: 13.5, b: true, c: "#111"});
tx(pF, "24-Month Price History", 1068.9, 1230.3, {fs: 14});
(function () {
  const [L, T, R, B] = [743.1, 1255.7, 1421.4, 1442.7];
  const padL = 60, padR = 40, padT = 12, padB = 34;
  const series = featherDates.map((d, i) => ({d: new Date(d + "T00:00:00Z"), v: featherPrices[i]}));
  const xt = featherXTicks.map(d => new Date(d + "T00:00:00Z"));
  const dom = featherDomain.map(d => new Date(d + "T00:00:00Z"));
  const dash = {stroke: "#161616", strokeWidth: 1, strokeDasharray: "3,1.6"};
  const svg = Plot.plot({
    width: Math.round(R - L + padL + padR), height: Math.round(B - T + padT + padB),
    marginLeft: padL, marginRight: padR, marginTop: padT, marginBottom: padB,
    x: {type: "utc", domain: dom}, y: {domain: [300, 650]},
    style: {background: "transparent", fontFamily: NARROW, color: "#161616", overflow: "visible"},
    marks: [
      Plot.ruleY(featherYTicks, dash),
      Plot.ruleX(xt.concat([dom[1]]), dash),
      Plot.ruleX([dom[0]], {stroke: "#111", strokeWidth: 1.4}),
      Plot.ruleY([300], {stroke: "#111", strokeWidth: 1.6}),
      Plot.axisY({ticks: featherYTicks, tickSize: 9, tickPadding: 3, fontSize: 16, label: null, stroke: "#111"}),
      Plot.axisX({ticks: xt, tickFormat: d3.utcFormat("%-m/%-d/%Y"), tickSize: 4, tickPadding: 3, fontSize: 16, label: null, stroke: "#111"}),
      Plot.line(series, {x: "d", y: "v", curve: "step-after", stroke: "#f6a72e", strokeWidth: 1.6})
    ]
  });
  narrowSvg(svg, SX);
  place(pF, svg, L - padL, T - padT);
})();
btn(pF, "View Regression Chart", 864, 1493.3, 203.3, 22.4, 15.3);
btn(pF, "Enlarge Chart", 1071.6, 1493.3, 119.7, 22.4, 15.3);
hl(pF, 633, 1517.7, 854, "#c9d1e2", 2);
legend(pF, "Regression Info", 646.4, 1530, 717.5, 1487);
vl(pF, 639.5, 1530, 363, "#d3d9e6");
btn(pF, "Export to Excel", 932.3, 1536.7, 136.6, 23.3, 15.3);
btn(pF, "Export to Word", 1074.4, 1536.7, 133.9, 23.3, 15.3);
table(pF, {x: 658.4, y: 1561.7, w: 825.3, headH: 26, orangeH: 4, rowTop: 1594.9, rowH: 25.65, head: headSM,
  hc: [708.2, 785.8, 860.7, 937.2, 1014.2, 1088, 1160.2, 1253.1, 1397.9], vc: [720.2, 790.1, 863.4, 939.9, 1016.4, 1108.2, 1178.2, 1255.8, 1395.2],
  rows: featherRows, hi: -1, sep: 1308.8, vfs: 10.5});
</script></body></html>
